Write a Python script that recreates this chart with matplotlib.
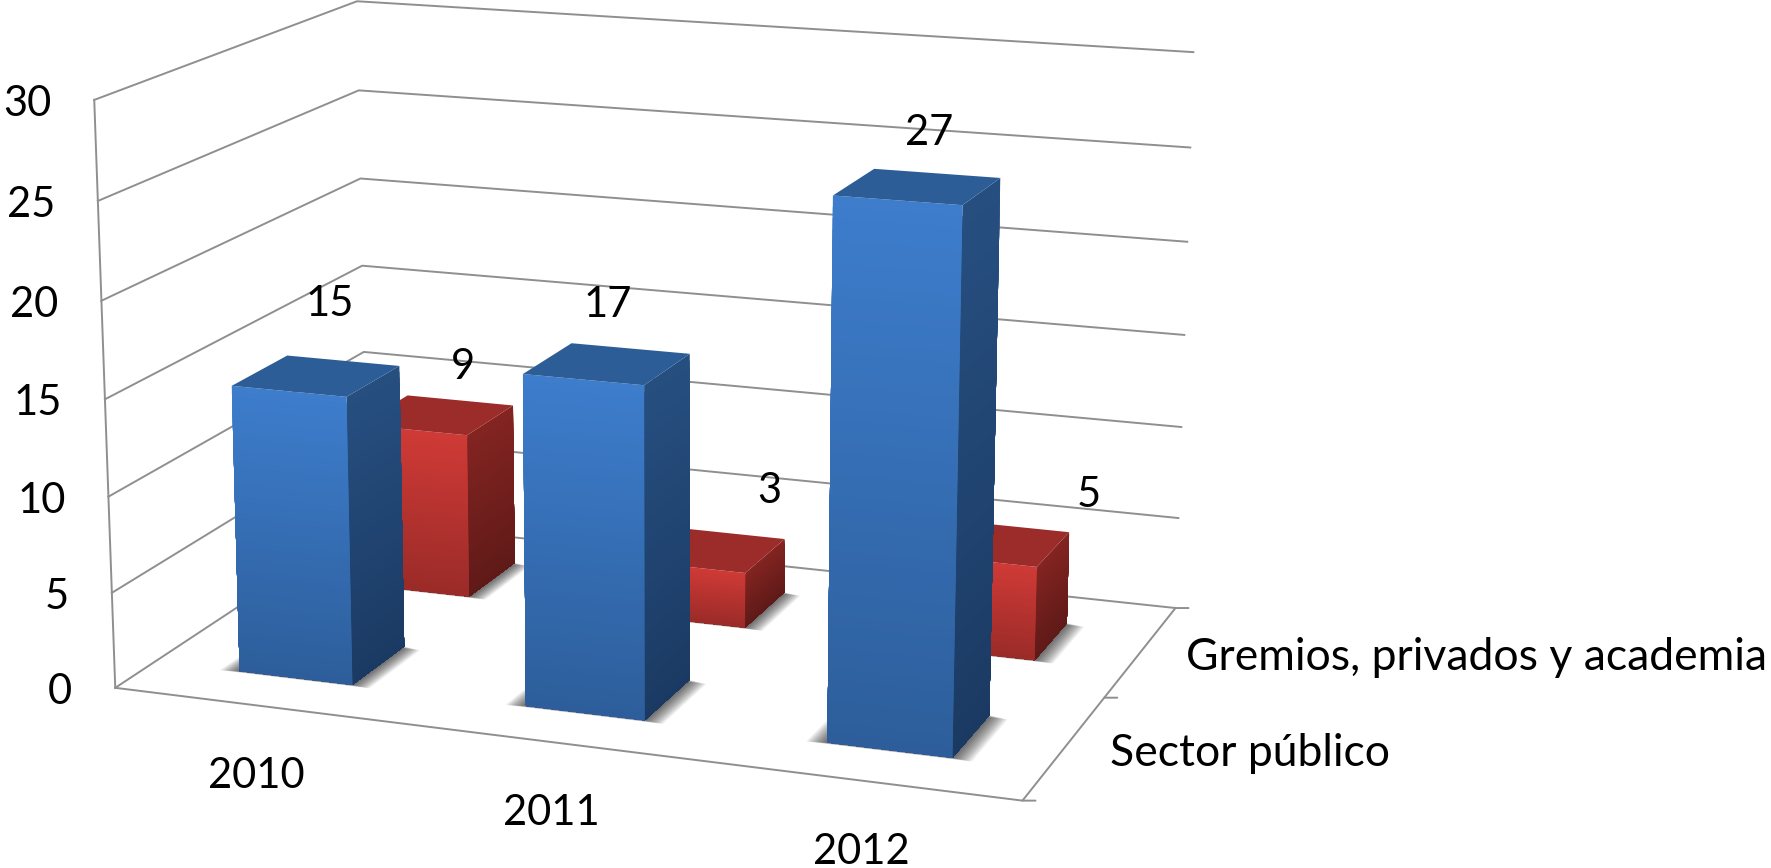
import numpy as np
import matplotlib
matplotlib.use('Agg')
import matplotlib.pyplot as plt
from mpl_toolkits.mplot3d import proj3d
from mpl_toolkits.mplot3d.art3d import Poly3DCollection

# dati
years = ['2010', '2011', '2012']
series_names = ['Sector público', 'Gremios, privados y academia']
sector_publico = [15, 17, 27]
gremios = [9, 3, 5]
z_ticks = [0, 5, 10, 15, 20, 25, 30]

W, H = 1771, 868
BAR_W = 0.40
BAR_D = 0.42
GRID = '#8f8f8f'
FONT = 'Lato'
FS_NUM = 30
FS_TXT = 32

blue = dict(front=('#2d5e9b', '#3d7dcc'), side=('#1b3a63', '#264f80'), top='#2c5d97')
red = dict(front=('#9a2b28', '#d03a36'), side=('#5f1a18', '#842421'), top='#9c2c29')

# spostamento delle etichette dei valori, in pixel
blue_offsets = [(14, 72), (1, 59), (12, 54)]
red_offsets = [(25, 48), (58, 59), (93, 48)]

fig = plt.figure(figsize=(W / 100, H / 100), dpi=100)
S = 1218.6
ax = fig.add_axes([35.03 / W, -123.92 / H, S / W, S / H], projection='3d', computed_zorder=False)
ax.set_xlim(0, 3, view_margin=0)
ax.set_ylim(0, 2, view_margin=0)
ax.set_zlim(0, 30, view_margin=0)
ax.view_init(elev=14.475, azim=-69.91, roll=0.04)
ax.set_proj_type('persp', focal_length=0.623)
ax.set_box_aspect((1.5685, 1.0326, 1))
ax.set_axis_off()


def to_2d(x, y, z):
    px, py, _ = proj3d.proj_transform(x, y, z, ax.get_proj())
    return float(px), float(py)


def label(x, y, z, text, dx, dy, ha='center', fs=FS_NUM):
    ax.annotate(text, xy=to_2d(x, y, z), xytext=(dx, dy), textcoords='offset pixels',
                ha=ha, va='center', fontsize=fs, family=FONT, color='black',
                annotation_clip=False, zorder=200)


def mix(c0, c1, n):
    c0, c1 = np.array(matplotlib.colors.to_rgb(c0)), np.array(matplotlib.colors.to_rgb(c1))
    return [tuple(c0 + (c1 - c0) * t) for t in (np.arange(n) + 0.5) / n]


def draw_bar(xc, yc, value, colors, z0):
    x0, x1 = xc - BAR_W / 2, xc + BAR_W / 2
    y0, y1 = yc - BAR_D / 2, yc + BAR_D / 2

    # ombra sul pavimento
    for e in np.linspace(0.065, 0.0, 16):
        quad = [(x0 - e, y0 - e * 0.2, 0), (x1 + e, y0 - e * 0.2, 0),
                (x1 + e, y1 - e * 0.3, 0), (x0 - e, y1 - e * 0.3, 0)]
        ax.add_collection3d(Poly3DCollection([quad], facecolors=[(0, 0, 0, 0.05)], edgecolors='none', zorder=z0))

    # fronte e lato: fette sovrapposte, dall'alto in basso, per evitare le righe
    n = 50
    zs = np.linspace(0, value, n + 1)
    fc = mix(*colors['front'], n)
    sc = mix(*colors['side'], n)
    for j in reversed(range(n)):
        zt = zs[j + 1]
        order = z0 + 1 + (n - j) / (n + 1)
        side = [(x1, y0, 0), (x1, y1, 0), (x1, y1, zt), (x1, y0, zt)]
        front = [(x0, y0, 0), (x1, y0, 0), (x1, y0, zt), (x0, y0, zt)]
        ax.add_collection3d(Poly3DCollection([side], facecolors=[sc[j]], edgecolors='none', zorder=order))
        ax.add_collection3d(Poly3DCollection([front], facecolors=[fc[j]], edgecolors='none', zorder=order))
    top = [(x0, y0, value), (x1, y0, value), (x1, y1, value), (x0, y1, value)]
    ax.add_collection3d(Poly3DCollection([top], facecolors=[colors['top']], edgecolors='none', zorder=z0 + 2))


# griglia: pareti e pavimento
for z in z_ticks:
    ax.plot([0, 0, 3], [0, 2, 2], [z, z, z], color=GRID, lw=1.4, zorder=1)
ax.plot([0, 0], [0, 0], [0, 30], color=GRID, lw=1.4, zorder=1)
ax.plot([0, 3, 3], [0, 0, 2], [0, 0, 0], color=GRID, lw=1.4, zorder=1)

# barre, dalla fila dietro a quella davanti
for i, v in enumerate(gremios):
    draw_bar(i + 0.495, 1.5, v, red, 10 + 4 * i)
for i, v in enumerate(sector_publico):
    draw_bar(i + 0.502, 0.5, v, blue, 30 + 4 * i)

# tacche sull'asse delle serie
for y in [0, 1, 2]:
    ax.annotate('', xy=to_2d(3, y, 0), xytext=(13, 0), textcoords='offset pixels', annotation_clip=False,
                arrowprops=dict(arrowstyle='-', color=GRID, lw=1.4, shrinkA=0, shrinkB=0), zorder=5)

# etichette
for z in z_ticks:
    label(0, 0, z, str(z), -43, -4, ha='right')
for i, y in enumerate(years):
    label(i + 0.5, 0, 0, y, 0, -71)
label(3, 0.5, 0, series_names[0], 45, -6, ha='left', fs=FS_TXT)
label(3, 1.5, 0, series_names[1], 45, -6, ha='left', fs=FS_TXT)
for i, v in enumerate(sector_publico):
    label(i + 0.5, 0.5, v, str(v), *blue_offsets[i])
for i, v in enumerate(gremios):
    label(i + 0.5, 1.5, v, str(v), *red_offsets[i])

fig.savefig('out.png', dpi=100)
